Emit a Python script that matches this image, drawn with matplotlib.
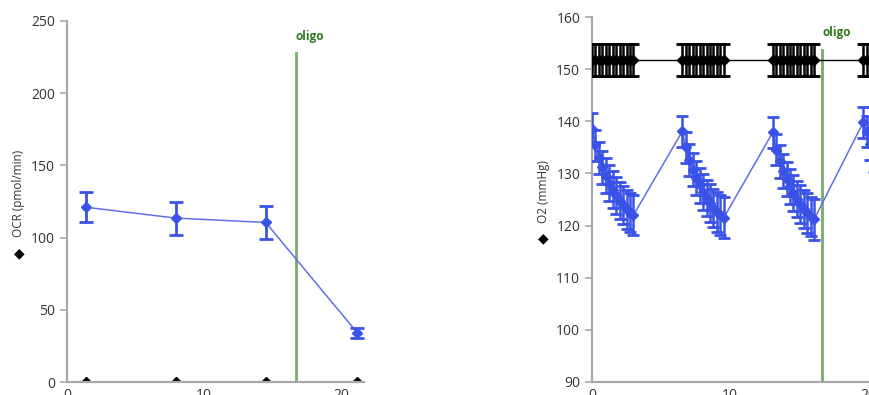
import matplotlib
matplotlib.use("Agg")
import matplotlib.pyplot as plt
import numpy as np

plt.rcParams['font.family'] = ['Open Sans', 'DejaVu Sans']

# --- OCR panel data ---
ocr_time = [1.4, 7.95, 14.5, 21.2]
ocr_vals = [121, 113.5, 110.5, 34]
ocr_err = [10.5, 11.5, 11.5, 3.5]
ocr_ctrl = [0, 0, 0, 0]

# --- O2 panel data ---
cycle_starts = [0.0, 6.55, 13.1, 19.65]
sample_offsets = [0.0, 0.25, 0.5, 0.75, 1.0, 1.25, 1.5, 1.75, 2.0, 2.25, 2.5, 2.75, 3.0]
o2_cycle1 = [138.6, 135.4, 133.0, 131.2, 129.6, 128.2, 126.9, 125.8, 124.8, 123.9, 123.1, 122.5, 122.0]
o2_cycle2 = [138.1, 135.0, 132.6, 130.7, 129.1, 127.7, 126.4, 125.3, 124.3, 123.4, 122.6, 122.0, 121.5]
o2_cycle3 = [137.9, 134.6, 132.3, 130.5, 128.9, 127.5, 126.2, 125.1, 124.1, 123.2, 122.4, 121.7, 121.2]
o2_cycle4 = [139.8, 138.0, 135.6, 133.5, 131.8, 130.3, 129.0, 127.8, 126.8, 125.9, 125.1, 124.4, 123.8]
o2_err_cycle = [3.0, 3.0, 3.1, 3.2, 3.3, 3.4, 3.5, 3.5, 3.6, 3.7, 3.8, 3.8, 3.9]
o2_ctrl_level = 151.8
o2_ctrl_err = 3.0

oligo_time = 16.7

blue = '#3a52e6'
blue_line = '#5f6fe8'
green = '#7aaa6c'
green_text = '#2f7a1f'
spine_gray = '#a9a9a9'
text_gray = '#333333'

W, H = 869, 395
fig = plt.figure(figsize=(W / 100, H / 100), dpi=100)


def px_axes(left, top, right, bottom):
    return fig.add_axes([left / W, 1 - bottom / H, (right - left) / W, (bottom - top) / H])


def style(ax):
    for s in ['top', 'right']:
        ax.spines[s].set_visible(False)
    for s in ['left', 'bottom']:
        ax.spines[s].set_color(spine_gray)
        ax.spines[s].set_linewidth(1.6)
    ax.tick_params(colors=spine_gray, labelcolor=text_gray, labelsize=10,
                   length=5, width=1.2)
    ax.tick_params(axis='x', length=0, pad=4.5)


def axis_label(ax, x_px, text, key_frac):
    # gray caption with a black diamond key below it
    ax.set_ylabel(text, color=text_gray, fontsize=8.5, va='center')
    x0 = ax.get_position().x0 * W
    w = ax.get_position().width * W
    ax.yaxis.set_label_coords((x_px - x0) / w, 0.522)
    ax.text((x_px - x0) / w, key_frac, '\u25c6', transform=ax.transAxes,
            color='black', fontsize=10, ha='center', va='center',
            family='DejaVu Sans')


# ---------------- OCR panel ----------------
ax1 = px_axes(67, 21, 364, 382)
style(ax1)
ax1.set_xlim(0, 21.68)
ax1.set_ylim(0, 250)
ax1.set_yticks([0, 50, 100, 150, 200, 250])
ax1.set_xticks([0, 10, 20])
ax1.axvline(oligo_time, ymin=0, ymax=228 / 250, color=green, lw=2, zorder=1)
ax1.text(oligo_time, 239, 'oligo', color=green_text, fontsize=8.5,
         fontweight='bold', ha='left', va='center')
ax1.plot(ocr_time, ocr_vals, color=blue_line, lw=1.1, zorder=3)
ax1.errorbar(ocr_time, ocr_vals, yerr=ocr_err, fmt='D', color=blue, ms=5,
             elinewidth=2, capsize=5, capthick=2, zorder=4)
ax1.plot(ocr_time, ocr_ctrl, 'D', color='black', ms=5, zorder=2)
axis_label(ax1, 19, 'OCR (pmol/min)', 0.357)

# ---------------- O2 panel ----------------
ax2 = px_axes(592, 17.3, 592 + 22 * 13.8, 381.7)
style(ax2)
ax2.set_xlim(0, 22)
ax2.set_ylim(90, 160)
ax2.set_yticks([90, 100, 110, 120, 130, 140, 150, 160])
ax2.set_xticks([0, 10, 20])
ax2.axvline(oligo_time, ymin=0, ymax=(153.7 - 90) / 70, color=green, lw=2, zorder=1)
ax2.text(oligo_time, 157, 'oligo', color=green_text, fontsize=8.5,
         fontweight='bold', ha='left', va='center')

o2_cycles = [o2_cycle1, o2_cycle2, o2_cycle3, o2_cycle4]
o2_t = np.concatenate([np.array(sample_offsets) + s for s in cycle_starts])
o2_v = np.concatenate(o2_cycles)
o2_e = np.concatenate([o2_err_cycle] * len(o2_cycles))
ctrl_v = np.full_like(o2_t, o2_ctrl_level)

ax2.plot(o2_t, ctrl_v, color='black', lw=1.0, zorder=2)
ax2.errorbar(o2_t, ctrl_v, yerr=o2_ctrl_err, fmt='D', color='black', ms=5,
             elinewidth=1.8, capsize=4, capthick=2, zorder=3)
ax2.plot(o2_t, o2_v, color=blue_line, lw=1.1, zorder=3)
ax2.errorbar(o2_t, o2_v, yerr=o2_e, fmt='D', color=blue, ms=5,
             elinewidth=1.8, capsize=4.5, capthick=2, zorder=4)
ax2.set_ylabel('O2 (mmHg)')
axis_label(ax2, 543, 'O2 (mmHg)', 0.394)

fig.savefig('out.png', dpi=100)
